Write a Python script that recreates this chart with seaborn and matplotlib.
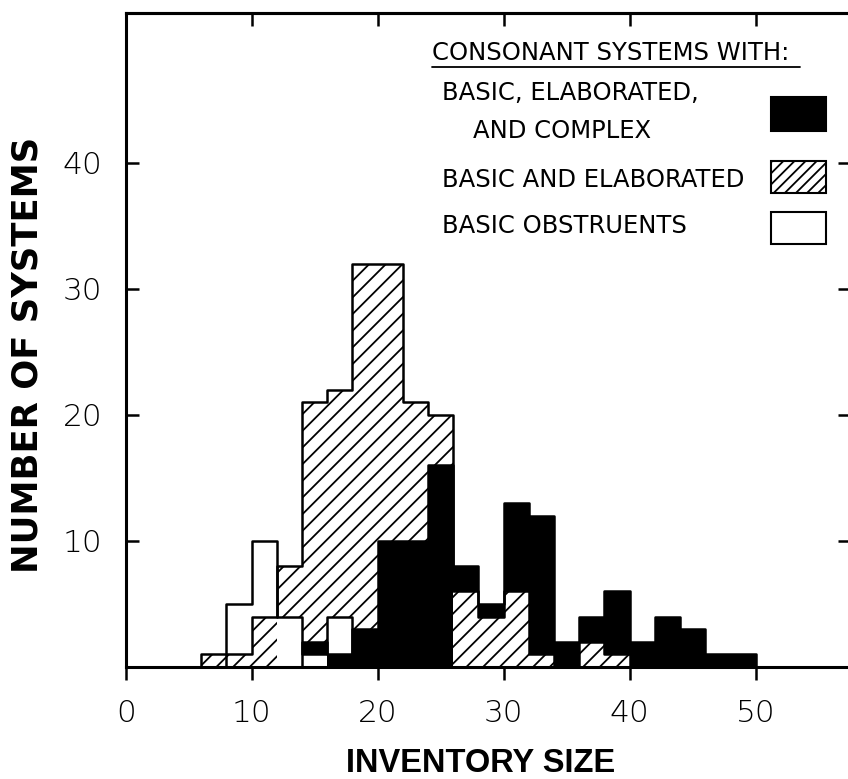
# %%
import pandas as pd
import numpy as np
import matplotlib
matplotlib.use("Agg")
import matplotlib.pyplot as plt
import matplotlib.patches as mpatches
import seaborn as sns

# %%
# Bins of inventory size (width 2), left edges
bin_starts = [4, 6, 8, 10, 12, 14, 16, 18, 20, 22, 24, 26,
              28, 30, 32, 34, 36, 38, 40, 42, 44, 46, 48, 50]
bin_width = 2

# Number of systems per bin
complex_counts = [0, 0, 0, 0, 0, 2, 1, 3, 10, 10, 16, 8,
                  5, 13, 12, 2, 4, 6, 2, 4, 3, 1, 1, 0]
elaborated_counts = [0, 1, 1, 4, 8, 21, 22, 32, 32, 21, 20, 6,
                     4, 6, 1, 0, 2, 1, 0, 0, 0, 0, 0, 0]
basic_counts = [0, 0, 5, 10, 4, 1, 4, 0, 0, 0, 0, 0,
                0, 0, 0, 0, 0, 0, 0, 0, 0, 0, 0, 0]

legend_title = "CONSONANT SYSTEMS WITH:"
group_labels = ["BASIC, ELABORATED,\n    AND COMPLEX",
                "BASIC AND ELABORATED",
                "BASIC OBSTRUENTS"]
x_ticks = [0, 10, 20, 30, 40, 50]
y_ticks = [10, 20, 30, 40]

# %%
n = len(bin_starts)
edges = bin_starts + [bin_starts[-1] + bin_width]
centers = [b + bin_width / 2 for b in bin_starts]

df = pd.DataFrame({
    'size': centers * 3,
    'count': complex_counts + elaborated_counts + basic_counts,
    'group': ['complex'] * n + ['elaborated'] * n + ['basic'] * n,
})

sns.set_style("ticks")
plt.rcParams['font.family'] = ['DejaVu Sans']
plt.rcParams['hatch.linewidth'] = 1.3
plt.rcParams['text.color'] = 'black'
plt.rcParams['axes.labelcolor'] = 'black'
plt.rcParams['axes.edgecolor'] = 'black'
plt.rcParams['xtick.color'] = 'black'
plt.rcParams['ytick.color'] = 'black'

fig = plt.figure(figsize=(8.48, 7.79), dpi=100)
ax = fig.add_axes([0.1482, 0.1438, 0.8544, 0.8395])

estilos = {
    'complex': dict(facecolor='black', edgecolor='black'),
    'elaborated': dict(facecolor='white', edgecolor='black', hatch='//'),
    'basic': dict(facecolor='white', edgecolor='white'),
}

for g in ['elaborated', 'basic', 'complex']:
    sub = df[df['group'] == g]
    # filled bars, shorter bars in front of taller ones
    sns.histplot(data=sub, x='size', weights='count', bins=edges,
                 element='bars', fill=True, alpha=1, linewidth=0,
                 ax=ax, **estilos[g])
    for p in ax.containers[-1]:
        p.set_zorder(2 + (60 - p.get_height()) / 100)
    # outline of each distribution
    sns.histplot(data=sub, x='size', weights='count', bins=edges,
                 element='step', fill=False, color='black', linewidth=1.8,
                 ax=ax)
    ax.lines[-1].set_zorder(3)

ax.set_xlim(0, 57.5)
ax.set_ylim(0, 51.9)
ax.set_xticks(x_ticks)
ax.set_yticks(y_ticks)
ax.tick_params(axis='x', direction='out', length=9, width=1.8,
               labelsize=22.5, pad=14, colors='black')
ax.tick_params(axis='y', direction='in', length=9, width=1.8,
               labelsize=22.5, pad=17, colors='black')
for lab in ax.get_xticklabels() + ax.get_yticklabels():
    lab.set_fontweight('light')

for s in ax.spines.values():
    s.set_linewidth(2.2)
    s.set_zorder(4)
ax.spines['right'].set_visible(False)

sec_x = ax.secondary_xaxis('top')
sec_x.set_xticks([10, 20, 30, 40, 50])
sec_x.tick_params(direction='in', length=9, width=1.8, labeltop=False)
sec_x.spines['top'].set_linewidth(2.2)

sec_y = ax.secondary_yaxis('right')
sec_y.set_yticks(y_ticks)
sec_y.tick_params(direction='in', length=9, width=1.8, labelright=False)
sec_y.spines['right'].set_visible(False)

ax.set_xlabel("INVENTORY SIZE", fontsize=23.5, fontweight='bold',
              family='Liberation Sans')
ax.set_ylabel("NUMBER OF SYSTEMS", fontsize=25.5, fontweight='bold',
              family='DejaVu Sans')
ax.xaxis.set_label_coords(0.4905, -0.1245)
ax.yaxis.set_label_coords(-0.1114, 0.477)

# %%
# Legend drawn by hand: text on the left, boxes on the right
ax.text(0.4229, 0.9281, legend_title, transform=ax.transAxes,
        fontsize=17.5, va='baseline', ha='left')
ax.plot([0.4229, 0.9309], [0.9174, 0.9174], transform=ax.transAxes,
        color='black', linewidth=1.3, clip_on=False)

# baseline of the last line of each label
label_y = [0.8089, 0.7339, 0.6636]
box_y = [(0.8196, 0.052), (0.7248, 0.0489), (0.6468, 0.0489)]
box_style = [estilos['complex'],
             dict(facecolor='white', edgecolor='black', hatch='///'),
             dict(facecolor='white', edgecolor='black')]
for lab, ly, (by, bh), st in zip(group_labels, label_y, box_y, box_style):
    t = ax.text(0.4367, ly, lab, transform=ax.transAxes, fontsize=17.5,
                va='baseline', ha='left')
    t.set_linespacing(1.73)
    ax.add_patch(mpatches.Rectangle((0.8911, by), 0.0759, bh,
                                    transform=ax.transAxes, clip_on=False,
                                    linewidth=1.5, zorder=5, **st))

fig.savefig('out.png', dpi=100)
